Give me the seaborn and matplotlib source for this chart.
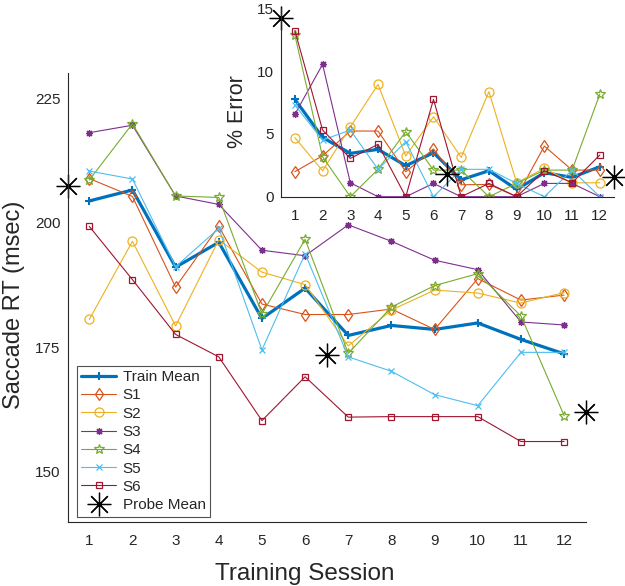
import numpy as np
import pandas as pd
import matplotlib
matplotlib.use("Agg")
import matplotlib.pyplot as plt
import seaborn as sns

sns.set_style("white")
plt.rcParams['font.family'] = ['Liberation Sans', 'DejaVu Sans']

sessions = list(range(1, 13))
probe_x = [0.5, 6.5, 12.5]

# Saccade RT (msec)
rt_train_mean = [204.4, 206.6, 191.1, 196.1, 180.8, 186.9, 177.4, 179.4, 178.6, 179.9, 176.6, 173.7]
rt_s1 = [208.9, 205.3, 187.1, 199.3, 183.7, 181.6, 181.6, 182.7, 178.6, 188.8, 184.5, 185.5]
rt_s2 = [180.6, 196.3, 179.3, 196.6, 190.1, 187.6, 175.3, 182.5, 186.5, 185.9, 183.9, 186.0]
rt_s3 = [218.1, 219.6, 205.4, 203.7, 194.5, 193.4, 199.6, 196.3, 192.5, 190.6, 180.1, 179.5]
rt_s4 = [208.6, 219.9, 205.4, 205.1, 181.7, 196.7, 173.8, 183.1, 187.4, 189.8, 181.3, 161.3]
rt_s5 = [210.4, 208.8, 191.2, 198.9, 174.5, 193.8, 173.1, 170.2, 165.5, 163.3, 174.0, 174.0]
rt_s6 = [199.3, 188.6, 177.6, 173.1, 160.3, 169.1, 161.0, 161.1, 161.1, 161.1, 156.1, 156.1]
rt_probe = [207.4, 173.4, 162.1]

# % Error
err_train_mean = [7.75, 4.72, 3.45, 3.77, 2.47, 3.50, 1.35, 2.07, 0.58, 1.91, 1.54, 2.39]
err_s1 = [1.99, 3.26, 5.23, 5.23, 1.99, 3.80, 0.95, 0.98, 0.0, 4.03, 2.12, 2.12]
err_s2 = [4.70, 2.07, 5.55, 8.94, 3.24, 6.37, 3.13, 8.36, 1.11, 2.26, 1.11, 1.11]
err_s3 = [6.56, 10.54, 1.11, 0.0, 0.0, 1.06, 0.0, 0.0, 0.0, 1.06, 1.06, 0.0]
err_s4 = [12.87, 3.18, 0.0, 2.18, 5.18, 2.12, 2.12, 0.0, 1.06, 2.12, 2.12, 8.17]
err_s5 = [7.30, 4.51, 5.31, 2.18, 4.38, 0.0, 2.18, 2.18, 1.06, 0.0, 2.12, 0.0]
err_s6 = [13.22, 5.31, 3.05, 4.17, 0.0, 7.75, 0.0, 1.06, 0.0, 2.07, 1.11, 3.32]
err_probe = [14.2, 1.81, 1.59]

labels = ["Train Mean", "S1", "S2", "S3", "S4", "S5", "S6"]
colors = [(0.0, 0.447, 0.741), (0.85, 0.325, 0.098), (0.929, 0.694, 0.125),
          (0.494, 0.184, 0.556), (0.466, 0.674, 0.188), (0.301, 0.745, 0.933),
          (0.635, 0.078, 0.184)]
markers = ["+", "d", "o", (8, 2, 0), "*", "x", "s"]
msizes = [6, 6.5, 6.5, 5, 7.5, 5, 4.5]
lwidths = [2.3, 0.8, 0.8, 0.8, 0.8, 0.8, 0.8]

rt_series = [rt_train_mean, rt_s1, rt_s2, rt_s3, rt_s4, rt_s5, rt_s6]
err_series = [err_train_mean, err_s1, err_s2, err_s3, err_s4, err_s5, err_s6]

axcol = (0.15, 0.15, 0.15)

fig = plt.figure(figsize=(6.25, 5.86), dpi=100)
ax = fig.add_axes([0.1083, 0.1097, 0.8288, 0.765])
ins = fig.add_axes([0.4496, 0.6643, 0.5323, 0.3215])
ins.patch.set_alpha(0)


def draw(a, series, probe, with_labels):
    for lab, col, mk, ms, lw, vals in zip(labels, colors, markers, msizes, lwidths, series):
        df = pd.DataFrame({"session": sessions, "value": vals})
        filled = mk in ["+", "x", (8, 2, 0)]
        sns.lineplot(data=df, x="session", y="value", ax=a, color=col,
                     linewidth=lw, marker=mk, markersize=ms,
                     markerfacecolor=col if filled else "none",
                     markeredgecolor=col, markeredgewidth=1.5 if lab == "Train Mean" else 0.9,
                     label=lab if with_labels else None, legend=False)
    dfp = pd.DataFrame({"x": probe_x, "y": probe})
    sns.lineplot(data=dfp, x="x", y="y", ax=a, color="k", linestyle="none",
                 marker=(8, 2, 0), markersize=17, markeredgecolor="k",
                 markeredgewidth=0.9, clip_on=False,
                 label="Probe Mean" if with_labels else None, legend=False)


draw(ax, rt_series, rt_probe, True)
draw(ins, err_series, err_probe, False)

for a in (ax, ins):
    a.set_xlim(0.5, 12.5)
    a.set_xticks(sessions)
    for s in ["top", "right"]:
        a.spines[s].set_visible(False)
    for s in ["left", "bottom"]:
        a.spines[s].set_color(axcol)
        a.spines[s].set_linewidth(0.8)
    a.tick_params(direction="in", length=3.5, width=0.6, colors=axcol,
                  labelsize=11, labelcolor=axcol, pad=5)
    a.tick_params(axis="x", pad=9)

ax.set_ylim(140, 230)
ax.set_yticks([150, 175, 200, 225])
ax.set_xlabel("Training Session", fontsize=17.5, color=axcol)
ax.set_ylabel("Saccade RT (msec)", fontsize=17, color=axcol)
ax.yaxis.set_label_coords(-0.082, 0.483)
ax.xaxis.set_label_coords(0.458, -0.092)

ins.set_ylim(0, 15)
ins.set_yticks([0, 5, 10, 15])
ins.set_xlabel("")
ins.set_ylabel("% Error", fontsize=15.5, color=axcol)
ins.yaxis.set_label_coords(-0.099, 0.452)

leg = ax.legend(loc="lower left", bbox_to_anchor=(0.0174, 0.0112), borderaxespad=0,
                fancybox=False, frameon=True, fontsize=11, handlelength=2.3,
                labelspacing=0.28, borderpad=0.3, handletextpad=0.4)
leg.get_frame().set_edgecolor(axcol)
leg.get_frame().set_linewidth(0.8)
for t in leg.get_texts():
    t.set_color(axcol)

fig.savefig("out.png", dpi=100)
